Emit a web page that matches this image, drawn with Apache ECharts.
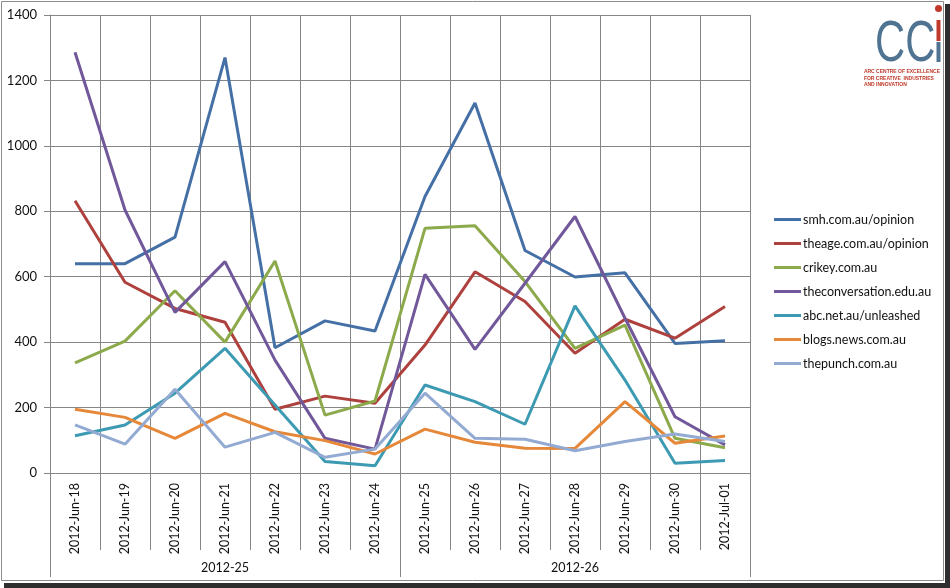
<!DOCTYPE html>
<html>
<head>
<meta charset="utf-8">
<title>Opinion sites, June 2012</title>
<script src="https://cdn.jsdelivr.net/npm/echarts@6/dist/echarts.min.js"></script>
<style>
  html, body { margin: 0; padding: 0; background: #fff; }
  #chart { width: 950px; height: 588px; }
</style>
</head>
<body>
<div id="chart"></div>
<script>
// Days and the week each one belongs to
const days = ["2012-Jun-18", "2012-Jun-19", "2012-Jun-20", "2012-Jun-21", "2012-Jun-22", "2012-Jun-23", "2012-Jun-24",
              "2012-Jun-25", "2012-Jun-26", "2012-Jun-27", "2012-Jun-28", "2012-Jun-29", "2012-Jun-30", "2012-Jul-01"];
const weeks = ["2012-25", "2012-26"];

// Values per site
const smh          = [640, 640, 721, 1270, 383, 465, 434, 845, 1131, 680, 599, 612, 396, 404];
const theage       = [832, 583, 503, 461, 195, 235, 213, 391, 615, 524, 366, 470, 412, 509];
const crikey       = [337, 403, 557, 400, 648, 177, 220, 748, 756, 585, 381, 452, 106, 77];
const conversation = [1286, 804, 491, 646, 345, 106, 73, 607, 378, 580, 784, 473, 172, 86];
const abc          = [114, 147, 244, 381, 208, 35, 22, 269, 218, 149, 511, 284, 30, 38];
const blogs        = [195, 170, 106, 182, 126, 99, 58, 134, 94, 76, 75, 218, 91, 113];
const thepunch     = [147, 88, 256, 79, 124, 48, 73, 244, 106, 103, 68, 96, 119, 96];

const siteNames = ["smh.com.au/opinion", "theage.com.au/opinion", "crikey.com.au", "theconversation.edu.au",
                   "abc.net.au/unleashed", "blogs.news.com.au", "thepunch.com.au"];
const siteData = [smh, theage, crikey, conversation, abc, blogs, thepunch];
const colors = ["#4470A6", "#AE413D", "#8CAA4B", "#71589A", "#3C9AB2", "#E6883A", "#93ABD2"];

const gridGrey = "#868686";
const font = "Lato, 'Open Sans', sans-serif";

const chart = echarts.init(document.getElementById("chart"));

let option = {
    animation: false,
    color: colors,
    grid: { left: 50, right: 200, top: 15, bottom: 115, containLabel: false },
    legend: {
        orient: "vertical",
        left: 769,
        top: 207,
        itemWidth: 27,
        itemHeight: 3,
        itemGap: 9,
        icon: "rect",
        textStyle: { fontFamily: font, fontSize: 12.5, lineHeight: 15, color: "#111", padding: [0, 0, 0, -3] },
        data: siteNames
    },
    xAxis: [
        {
            type: "category",
            data: days,
            boundaryGap: true,
            axisLine: { show: true, lineStyle: { color: gridGrey, width: 1 } },
            axisTick: { show: true, length: 77, interval: 0, lineStyle: { color: gridGrey } },
            splitLine: { show: true, interval: 0, lineStyle: { color: gridGrey, width: 1 } },
            axisLabel: {
                interval: 0, rotate: 90, margin: 10,
                fontFamily: font, fontSize: 12.5, color: "#111"
            }
        },
        {
            // second level of the axis: the weeks
            type: "category",
            data: weeks,
            position: "bottom",
            boundaryGap: true,
            axisLine: { show: false },
            axisTick: { show: true, length: 104, interval: 0, lineStyle: { color: gridGrey } },
            splitLine: { show: false },
            axisLabel: { interval: 0, margin: 88, fontFamily: font, fontSize: 12.5, color: "#111" }
        }
    ],
    yAxis: {
        type: "value",
        min: 0,
        max: 1400,
        interval: 200,
        axisLine: { show: true, lineStyle: { color: gridGrey } },
        axisTick: { show: true, length: 6, lineStyle: { color: gridGrey } },
        splitLine: { show: true, lineStyle: { color: gridGrey, width: 1 } },
        axisLabel: { margin: 13, fontFamily: font, fontSize: 13, color: "#111", formatter: v => String(v) }
    },
    series: siteNames.map((name, i) => ({
        name: name,
        type: "line",
        xAxisIndex: 0,
        data: siteData[i],
        symbol: "none",
        lineStyle: { width: 3 },
        silent: true
    })),
    graphic: [
        // frame with a dark shadow on the right and bottom
        { type: "rect", shape: { x: 1.5, y: 1.5, width: 942, height: 579 },
          style: { fill: "none", stroke: "#8c8c8c", lineWidth: 1 } },
        { type: "rect", shape: { x: 945, y: 4, width: 5, height: 584 }, style: { fill: "#2e2e2e" } },
        { type: "rect", shape: { x: 4, y: 583, width: 946, height: 5 }, style: { fill: "#2e2e2e" } },
        // CCi logo
        { type: "text", left: 875, top: 16,
          style: { text: "CC", font: "58px 'Liberation Sans', sans-serif", fill: "#4F7391" },
          scaleX: 0.72 },
        { type: "circle", shape: { cx: 938.5, cy: 8.5, r: 3.5 }, style: { fill: "#C0392B" } },
        { type: "rect", shape: { x: 936.5, y: 20, width: 4, height: 21 }, style: { fill: "#C0392B" } },
        { type: "rect", shape: { x: 936.5, y: 42, width: 4, height: 20 }, style: { fill: "#4F7391" } },
        { type: "text", right: 10, top: 68,
          style: { text: "ARC CENTRE OF EXCELLENCE\nFOR CREATIVE  INDUSTRIES\nAND INNOVATION",
                   font: "bold 5px 'Liberation Sans', sans-serif", fill: "#C0392B",
                   align: "right", lineHeight: 6.8 } }
    ]
};

chart.setOption(option);
</script>
</body>
</html>
